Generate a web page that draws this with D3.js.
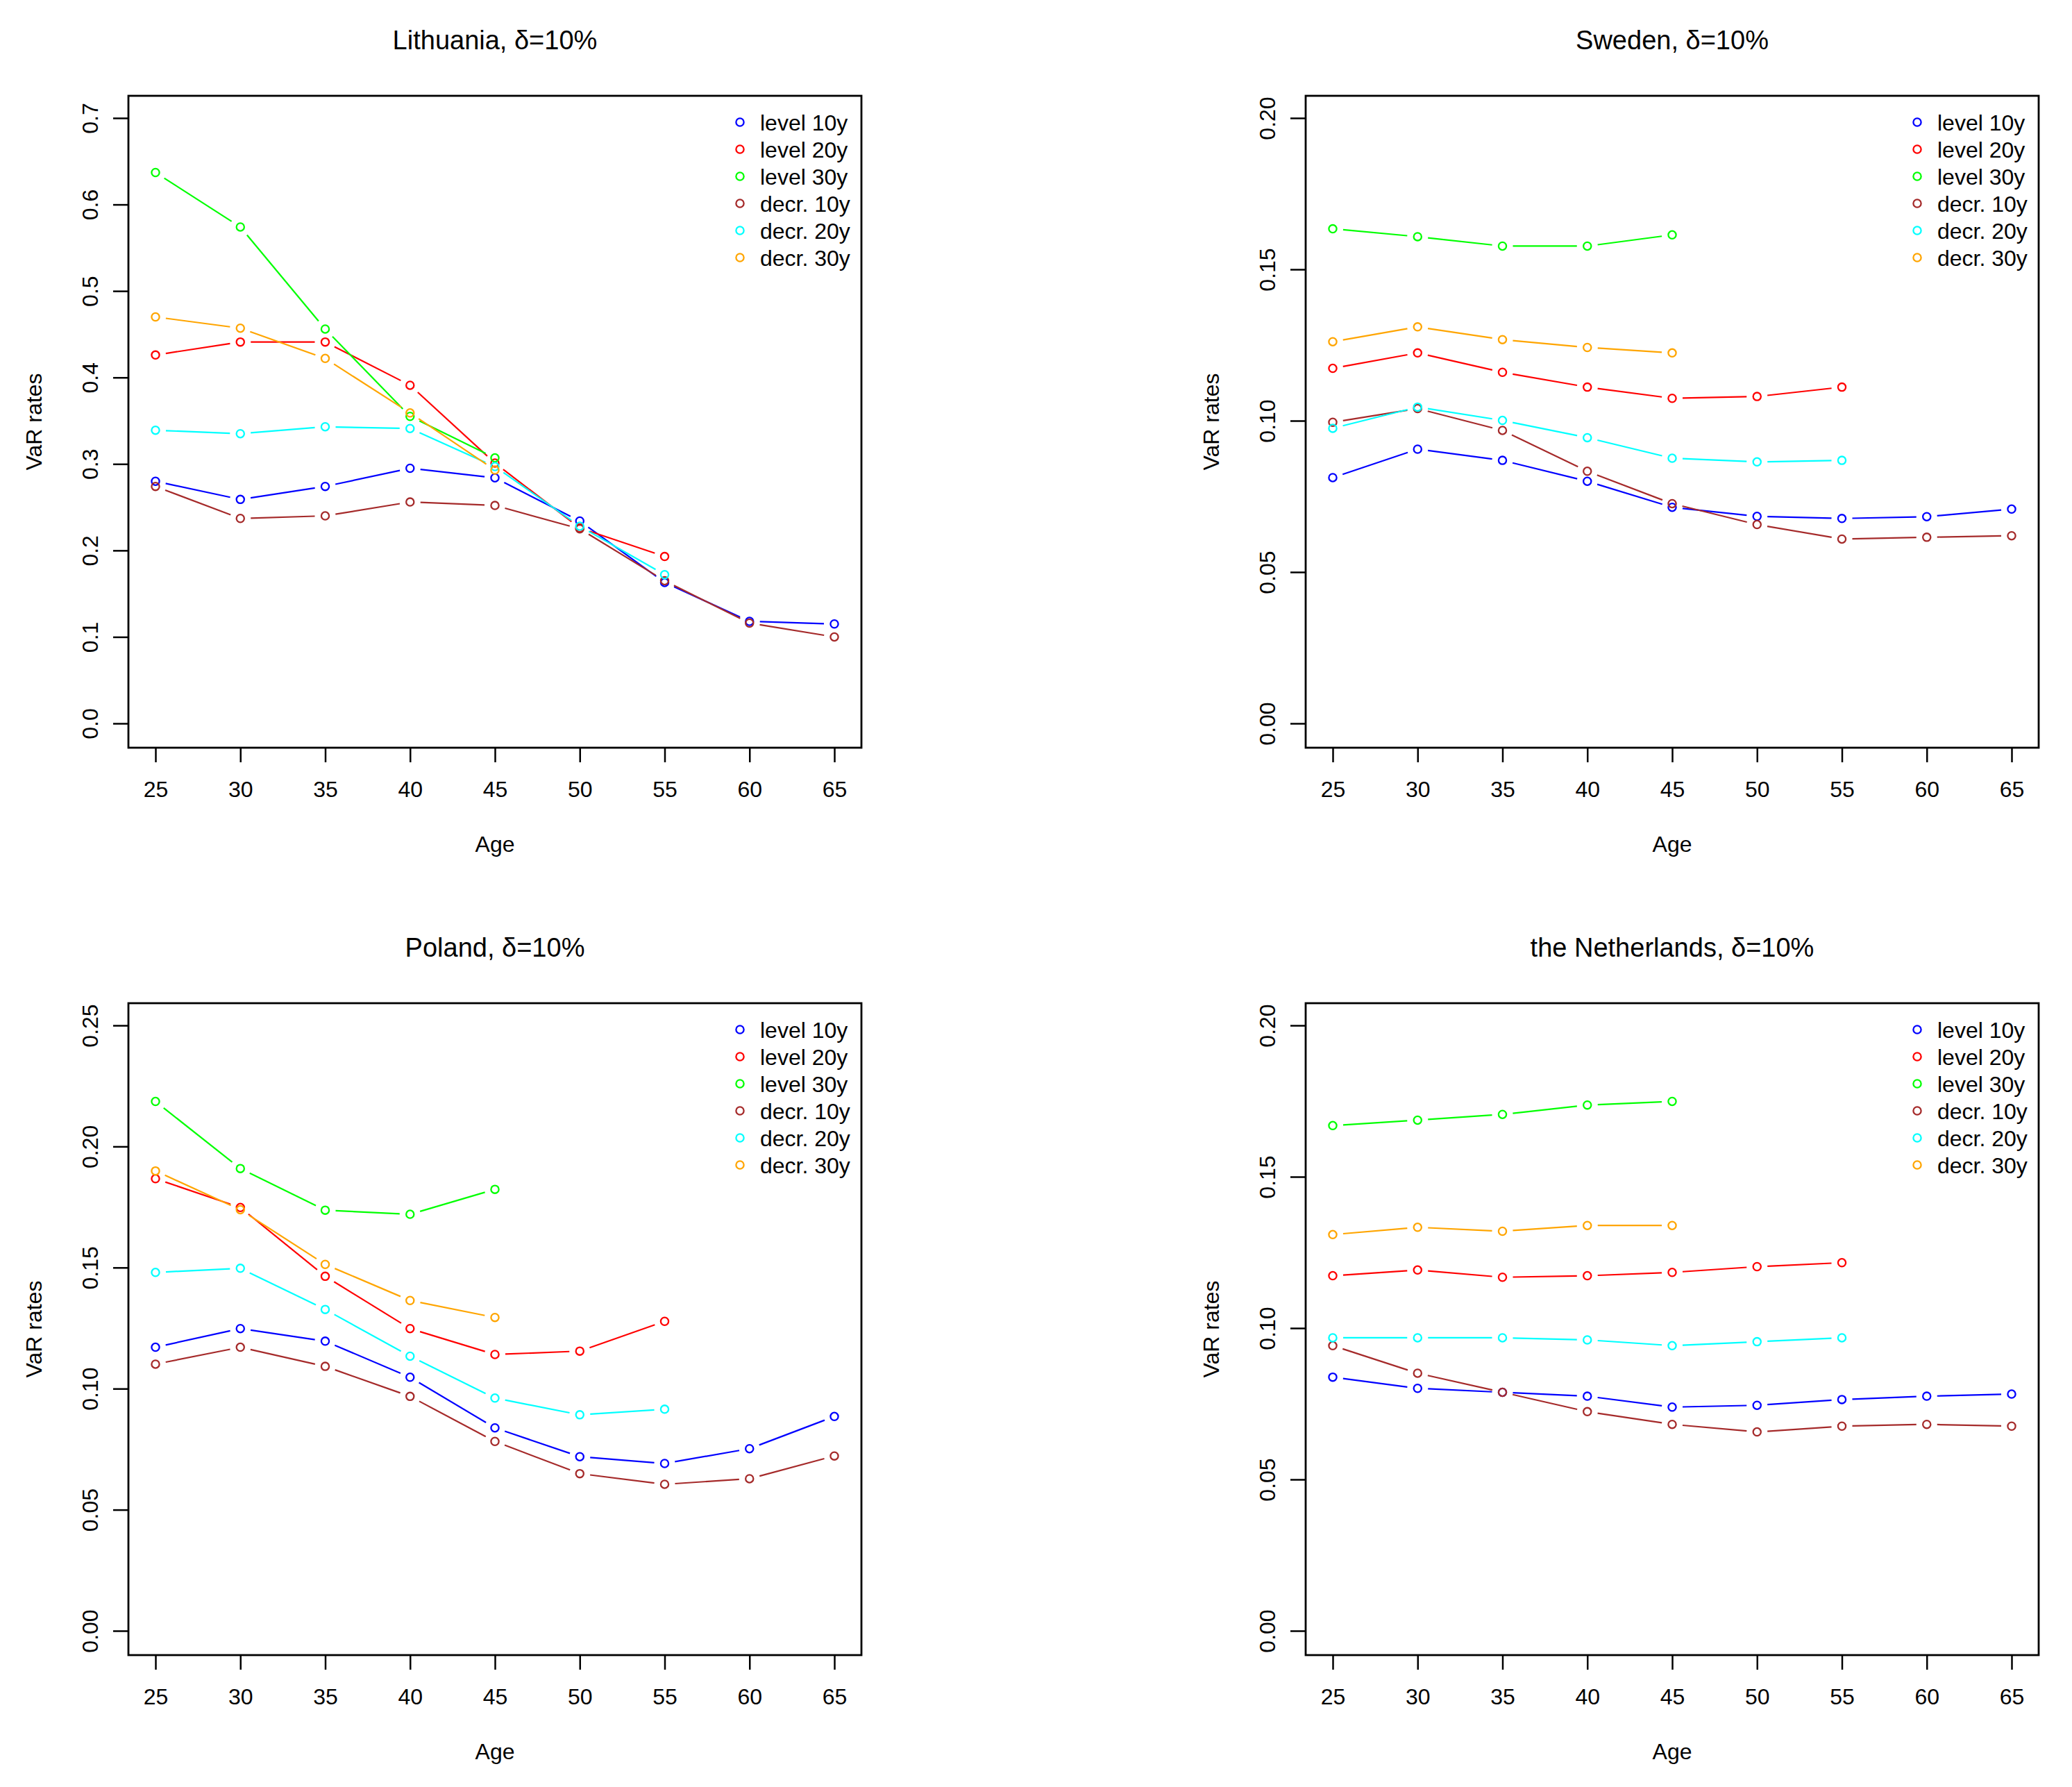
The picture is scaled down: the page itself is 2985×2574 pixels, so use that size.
<!DOCTYPE html>
<html>
<head>
<meta charset="utf-8">
<script src="https://cdn.jsdelivr.net/npm/d3@7"></script>
<style>
  html, body { margin: 0; padding: 0; background: #fff; }
  svg { display: block; }
  text { font-family: "Liberation Sans", Arial, sans-serif; fill: #000; }
</style>
</head>
<body>
<svg id="chart" width="2985" height="2574"></svg>
<script>
// ---------------- DATA ----------------
const ages = [25, 30, 35, 40, 45, 50, 55, 60, 65];
const seriesNames = ["level 10y", "level 20y", "level 30y", "decr. 10y", "decr. 20y", "decr. 30y"];
const seriesColors = ["#0000FF", "#FF0000", "#00FF00", "#A52A2A", "#00FFFF", "#FFA500"];
const panelTitles = ["Lithuania, \u03B4=10%", "Sweden, \u03B4=10%", "Poland, \u03B4=10%", "the Netherlands, \u03B4=10%"];

const lithuaniaTicks = [0.0, 0.1, 0.2, 0.3, 0.4, 0.5, 0.6, 0.7];
const swedenTicks = [0.00, 0.05, 0.10, 0.15, 0.20];
const polandTicks = [0.00, 0.05, 0.10, 0.15, 0.20, 0.25];
const netherlandsTicks = [0.00, 0.05, 0.10, 0.15, 0.20];

// values by series (level 10y, level 20y, level 30y, decr. 10y, decr. 20y, decr. 30y)
const lithuaniaValues = [
  [0.280, 0.259, 0.274, 0.295, 0.284, 0.234, 0.163, 0.118, 0.115],
  [0.426, 0.441, 0.441, 0.391, 0.301, 0.226, 0.193],
  [0.637, 0.574, 0.456, 0.355, 0.307],
  [0.274, 0.237, 0.240, 0.256, 0.252, 0.225, 0.165, 0.116, 0.100],
  [0.339, 0.335, 0.343, 0.341, 0.297, 0.228, 0.172],
  [0.470, 0.457, 0.422, 0.359, 0.293]
];
const swedenValues = [
  [0.0812, 0.0906, 0.0869, 0.0800, 0.0714, 0.0684, 0.0677, 0.0683, 0.0708],
  [0.1173, 0.1224, 0.1160, 0.1111, 0.1074, 0.1080, 0.1111],
  [0.1634, 0.1608, 0.1577, 0.1577, 0.1614],
  [0.0995, 0.1040, 0.0968, 0.0833, 0.0726, 0.0657, 0.0609, 0.0615, 0.0620],
  [0.0975, 0.1045, 0.1001, 0.0944, 0.0876, 0.0864, 0.0869],
  [0.1261, 0.1310, 0.1268, 0.1242, 0.1224]
];
const polandValues = [
  [0.1171, 0.1248, 0.1196, 0.1047, 0.0838, 0.0719, 0.0691, 0.0752, 0.0885],
  [0.1867, 0.1748, 0.1464, 0.1248, 0.1141, 0.1155, 0.1278],
  [0.2186, 0.1909, 0.1737, 0.1720, 0.1823],
  [0.1101, 0.1171, 0.1092, 0.0968, 0.0782, 0.0649, 0.0605, 0.0628, 0.0722],
  [0.1480, 0.1497, 0.1327, 0.1134, 0.0961, 0.0892, 0.0915],
  [0.1899, 0.1739, 0.1513, 0.1364, 0.1294]
];
const netherlandsValues = [
  [0.0838, 0.0801, 0.0788, 0.0775, 0.0739, 0.0745, 0.0764, 0.0775, 0.0782],
  [0.1173, 0.1192, 0.1168, 0.1173, 0.1184, 0.1203, 0.1216],
  [0.1669, 0.1687, 0.1706, 0.1737, 0.1749],
  [0.0942, 0.0851, 0.0788, 0.0724, 0.0682, 0.0657, 0.0676, 0.0682, 0.0676],
  [0.0968, 0.0968, 0.0968, 0.0961, 0.0942, 0.0955, 0.0968],
  [0.1309, 0.1333, 0.1320, 0.1339, 0.1339]
];

const panelValues = [lithuaniaValues, swedenValues, polandValues, netherlandsValues];
const panelTicks = [lithuaniaTicks, swedenTicks, polandTicks, netherlandsTicks];
const panelTickDigits = [1, 2, 2, 2];

// ---------------- LAYOUT ----------------
const svg = d3.select("#chart");
const panelOffsets = [[0, 0], [1696, 0], [0, 1307], [1696, 1307]];
const box = { left: 185, right: 1241, top: 138, bottom: 1077 };
const xRange = [224, 1202];
const yRange = [1042, 170];
const FS = 32;        // axis/legend font size
const TFS = 38;       // title font size
const GAP = 15;       // type="b" gap around points
const R = 5.6;        // point radius

panelValues.forEach((vals, pi) => {
  const [ox, oy] = panelOffsets[pi];
  const g = svg.append("g").attr("transform", `translate(${ox},${oy})`);
  const ticks = panelTicks[pi];

  const x = d3.scaleLinear().domain([25, 65]).range(xRange);
  const y = d3.scaleLinear().domain([0, ticks[ticks.length - 1]]).range(yRange);

  // title
  g.append("text")
    .attr("x", (box.left + box.right) / 2)
    .attr("y", 71)
    .attr("text-anchor", "middle")
    .style("font-size", TFS + "px")
    .text(panelTitles[pi]);

  // x axis
  const xAxis = g.append("g")
    .attr("transform", `translate(0,${box.bottom})`)
    .call(d3.axisBottom(x).tickValues(ages).tickFormat(d3.format("d")).tickSize(21).tickSizeOuter(0).tickPadding(6));
  xAxis.select(".domain").remove();
  xAxis.selectAll(".tick line").attr("stroke", "#000").attr("stroke-width", 2.5);
  xAxis.selectAll(".tick text")
    .attr("y", 71).attr("dy", 0)
    .style("font-size", FS + "px")
    .style("font-family", "'Liberation Sans', Arial, sans-serif")
    .attr("fill", "#000");

  // y axis
  const yAxis = g.append("g")
    .attr("transform", `translate(${box.left},0)`)
    .call(d3.axisLeft(y).tickValues(ticks).tickFormat(d3.format("." + panelTickDigits[pi] + "f")).tickSize(22).tickSizeOuter(0));
  yAxis.select(".domain").remove();
  yAxis.selectAll(".tick line").attr("stroke", "#000").attr("stroke-width", 2.5);
  yAxis.selectAll(".tick text")
    .attr("transform", "rotate(-90)")
    .attr("x", 0).attr("y", -44).attr("dy", 0)
    .attr("text-anchor", "middle")
    .style("font-size", FS + "px")
    .style("font-family", "'Liberation Sans', Arial, sans-serif")
    .attr("fill", "#000");

  // axis titles
  g.append("text")
    .attr("x", (box.left + box.right) / 2)
    .attr("y", 1227)
    .attr("text-anchor", "middle")
    .style("font-size", FS + "px")
    .text("Age");
  g.append("text")
    .attr("transform", `translate(60,${(box.top + box.bottom) / 2}) rotate(-90)`)
    .attr("text-anchor", "middle")
    .style("font-size", FS + "px")
    .text("VaR rates");

  // series
  const line = d3.line().x(d => d[0]).y(d => d[1]);
  vals.forEach((series, si) => {
    const pts = series.map((v, i) => [x(ages[i]), y(v)]);
    const sg = g.append("g");
    for (let i = 0; i < pts.length - 1; i++) {
      const [x0, y0] = pts[i], [x1, y1] = pts[i + 1];
      const dx = x1 - x0, dy = y1 - y0;
      const len = Math.hypot(dx, dy);
      if (len <= 2 * GAP) continue;
      const ux = dx / len, uy = dy / len;
      sg.append("path")
        .attr("d", line([[x0 + ux * GAP, y0 + uy * GAP], [x1 - ux * GAP, y1 - uy * GAP]]))
        .attr("fill", "none")
        .attr("stroke", seriesColors[si])
        .attr("stroke-width", 2.2);
    }
    sg.selectAll("circle").data(pts).enter().append("circle")
      .attr("cx", d => d[0]).attr("cy", d => d[1]).attr("r", R)
      .attr("fill", "none").attr("stroke", seriesColors[si]).attr("stroke-width", 2.3);
  });

  // box
  g.append("rect")
    .attr("x", box.left).attr("y", box.top)
    .attr("width", box.right - box.left).attr("height", box.bottom - box.top)
    .attr("fill", "none").attr("stroke", "#000").attr("stroke-width", 2.8);

  // legend
  const lg = g.append("g");
  seriesNames.forEach((name, si) => {
    const ly = 176 + si * 39;
    lg.append("circle")
      .attr("cx", 1066).attr("cy", ly).attr("r", R)
      .attr("fill", "none").attr("stroke", seriesColors[si]).attr("stroke-width", 2.3);
    lg.append("text")
      .attr("x", 1095).attr("y", ly + 12)
      .style("font-size", FS + "px")
      .text(name);
  });
});
</script>
</body>
</html>
